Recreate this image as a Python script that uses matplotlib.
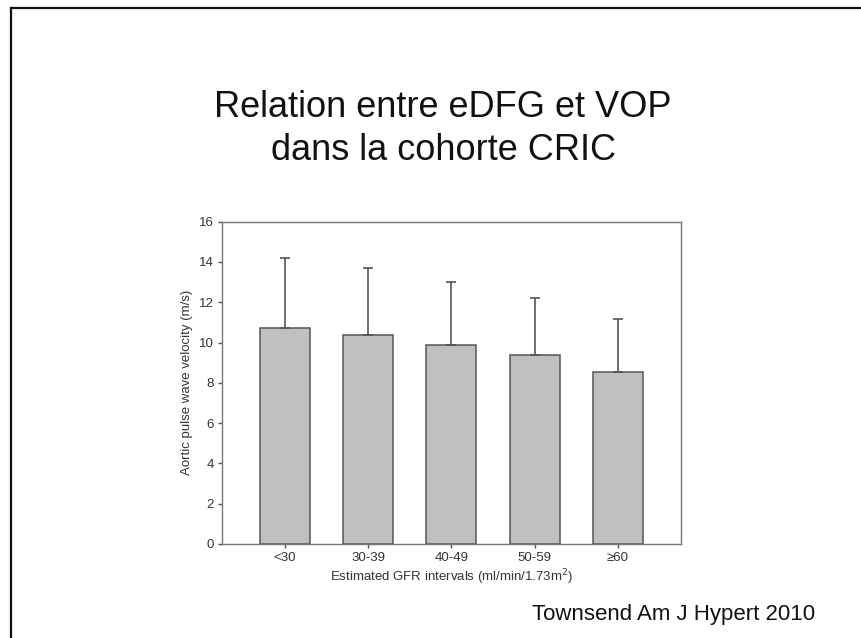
import matplotlib
matplotlib.use("Agg")
import matplotlib.pyplot as plt
from matplotlib.lines import Line2D
import numpy as np

plt.rcParams['font.family'] = ['Liberation Sans', 'DejaVu Sans']

# Données (Townsend, Am J Hypert 2010)
categories = ["<30", "30-39", "40-49", "50-59", "\u226560"]
vop_moy = [10.7, 10.4, 9.9, 9.4, 8.55]
vop_sd = [3.5, 3.3, 3.1, 2.8, 2.6]
yticks = [0, 2, 4, 6, 8, 10, 12, 14, 16]

gris = "#555555"

fig = plt.figure(figsize=(8.62, 6.38), dpi=100)

# cadre de la diapo (haut et gauche)
fig.add_artist(Line2D([11/862, 11/862], [0, 1 - 8/638], color="#111111", lw=1.6))
fig.add_artist(Line2D([11/862, 1], [1 - 8/638, 1 - 8/638], color="#111111", lw=1.6))

fig.text(0.514, 1 - 116.7/638, "Relation entre eDFG et VOP", ha="center", va="baseline",
         fontsize=26, color="#111111")
fig.text(0.514, 1 - 160/638, "dans la cohorte CRIC", ha="center", va="baseline",
         fontsize=26, color="#111111")

ax = fig.add_axes([221.7/862, 1 - 544/638, (681 - 221.7)/862, (544 - 221.7)/638])

x = np.arange(len(categories))
ax.bar(x, vop_moy, width=0.6, color="#c0c0c0", edgecolor=gris, linewidth=1.1, zorder=2)
ax.errorbar(x, vop_moy, yerr=[np.zeros(len(x)), vop_sd], fmt="none", ecolor=gris,
            elinewidth=1.2, capsize=3.5, capthick=1.2, zorder=3)

ax.set_xlim(-0.76, 4.76)
ax.set_ylim(0, 16)
ax.set_xticks(x)
ax.set_xticklabels(categories)
ax.set_yticks(yticks)
ax.tick_params(axis="both", direction="out", length=3, width=1, color=gris,
               labelsize=9.5, labelcolor="#333333", pad=2.5)

for s in ax.spines.values():
    s.set_color("#777777")
    s.set_linewidth(1)

ax.set_ylabel("Aortic pulse wave velocity (m/s)", fontsize=9.5, color="#333333", va="center")
ax.yaxis.set_label_coords(-0.0755, 0.5)
ax.set_xlabel("Estimated GFR intervals (ml/min/1.73m$^2$)", fontsize=9.5, color="#333333", va="center")
ax.xaxis.set_label_coords(0.5, -0.1024)

fig.text(815/862, 1 - 620/638, "Townsend Am J Hypert 2010", ha="right", va="baseline",
         fontsize=16, color="#111111")

fig.savefig("out.png", dpi=100)
